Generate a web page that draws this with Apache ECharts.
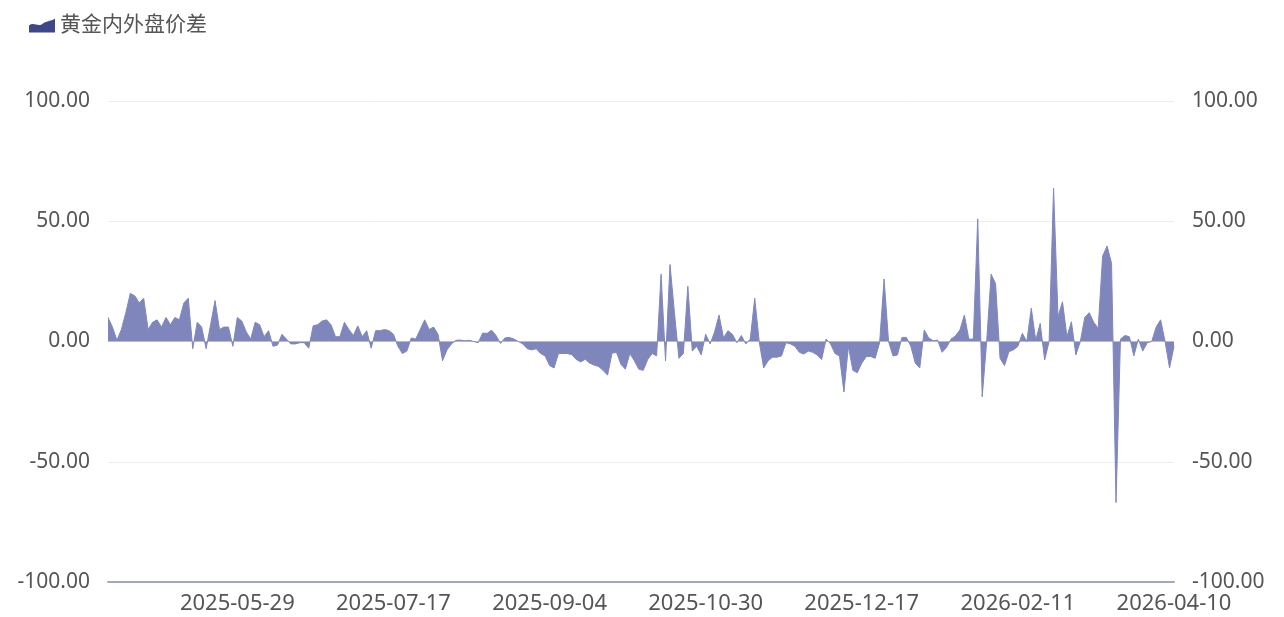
<!DOCTYPE html>
<html>
<head>
<meta charset="utf-8">
<script src="https://cdn.jsdelivr.net/npm/echarts@6/dist/echarts.min.js"></script>
<style>
html,body{margin:0;padding:0;background:#fff;}
#chart{width:1284px;height:617px;}
</style>
</head>
<body>
<div id="chart"></div>
<script>
const seriesName = '黄金内外盘价差';

const dates = [
'2025-04-15','2025-04-16','2025-04-17','2025-04-18','2025-04-21','2025-04-22','2025-04-23','2025-04-24','2025-04-25','2025-04-28','2025-04-29','2025-04-30','2025-05-06','2025-05-07','2025-05-08','2025-05-09','2025-05-12','2025-05-13','2025-05-14','2025-05-15','2025-05-16','2025-05-19','2025-05-20','2025-05-21','2025-05-22','2025-05-23','2025-05-26','2025-05-27','2025-05-28','2025-05-29',
'2025-05-30','2025-06-02','2025-06-03','2025-06-04','2025-06-05','2025-06-06','2025-06-09','2025-06-10','2025-06-11','2025-06-12','2025-06-13','2025-06-16','2025-06-17','2025-06-18','2025-06-19','2025-06-20','2025-06-23','2025-06-24','2025-06-25','2025-06-26','2025-06-27','2025-06-30','2025-07-01','2025-07-02','2025-07-03','2025-07-04','2025-07-07','2025-07-08','2025-07-09','2025-07-10','2025-07-11','2025-07-14','2025-07-15','2025-07-16','2025-07-17',
'2025-07-18','2025-07-21','2025-07-22','2025-07-23','2025-07-24','2025-07-25','2025-07-28','2025-07-29','2025-07-30','2025-07-31','2025-08-01','2025-08-04','2025-08-05','2025-08-06','2025-08-07','2025-08-08','2025-08-11','2025-08-12','2025-08-13','2025-08-14','2025-08-15','2025-08-18','2025-08-19','2025-08-20','2025-08-21','2025-08-22','2025-08-25','2025-08-26','2025-08-27','2025-08-28','2025-08-29','2025-09-01','2025-09-02','2025-09-03','2025-09-04',
'2025-09-05','2025-09-08','2025-09-09','2025-09-10','2025-09-11','2025-09-12','2025-09-15','2025-09-16','2025-09-17','2025-09-18','2025-09-19','2025-09-22','2025-09-23','2025-09-24','2025-09-25','2025-09-26','2025-09-29','2025-09-30','2025-10-09','2025-10-10','2025-10-11','2025-10-13','2025-10-14','2025-10-15','2025-10-16','2025-10-17','2025-10-20','2025-10-21','2025-10-22','2025-10-23','2025-10-24','2025-10-27','2025-10-28','2025-10-29','2025-10-30',
'2025-10-31','2025-11-01','2025-11-03','2025-11-04','2025-11-05','2025-11-06','2025-11-07','2025-11-10','2025-11-11','2025-11-12','2025-11-13','2025-11-14','2025-11-17','2025-11-18','2025-11-19','2025-11-20','2025-11-21','2025-11-24','2025-11-25','2025-11-26','2025-11-27','2025-11-28','2025-12-01','2025-12-02','2025-12-03','2025-12-04','2025-12-05','2025-12-08','2025-12-09','2025-12-10','2025-12-11','2025-12-12','2025-12-15','2025-12-16','2025-12-17',
'2025-12-18','2025-12-19','2025-12-22','2025-12-23','2025-12-24','2025-12-29','2025-12-30','2025-12-31','2026-01-05','2026-01-06','2026-01-07','2026-01-08','2026-01-09','2026-01-12','2026-01-13','2026-01-14','2026-01-15','2026-01-16','2026-01-20','2026-01-21','2026-01-22','2026-01-23','2026-01-26','2026-01-27','2026-01-28','2026-01-29','2026-01-30','2026-02-02','2026-02-03','2026-02-04','2026-02-05','2026-02-06','2026-02-09','2026-02-10','2026-02-11',
'2026-02-12','2026-02-13','2026-02-24','2026-02-25','2026-02-26','2026-02-27','2026-03-02','2026-03-03','2026-03-04','2026-03-05','2026-03-06','2026-03-09','2026-03-10','2026-03-11','2026-03-12','2026-03-13','2026-03-16','2026-03-17','2026-03-18','2026-03-19','2026-03-20','2026-03-23','2026-03-24','2026-03-25','2026-03-26','2026-03-27','2026-03-30','2026-03-31','2026-04-01','2026-04-02','2026-04-03','2026-04-07','2026-04-08','2026-04-09','2026-04-10'
];

const spread = [
10,6,0.5,5,12,20,19,16,18,5,8,9,6,10,7,10,9,16,18,-3,8,6,-3,7,17,5,6,6,-2,10,
8.5,4,1,8,7,2,4.5,-2,-1.5,3,1,-1,-1,-0.5,-0.5,-2.8,6.5,7,8.5,9,7,2,2,8,5,2.5,6.5,2,4.5,-2.8,
4.5,4.5,5,4.5,3,-2,-5,-4,1.5,1,5,9,5,6,3,-8,-3.5,-1,0.5,0.6,0.3,0.5,0,-0.5,3.5,3.4,4.7,2.5,-0.8,1.5,
1.7,1,0,-1,-3,-3.5,-3,-5,-6,-10,-11,-5,-5,-5,-5.5,-7.5,-8.5,-7.4,-9,-9.8,-10.4,-12,-14,-4.9,-4.5,-9.5,-11.5,-5,-8,-11.5,
-12,-7.5,-5,-6,28,-8,32,12,-7,-5,23,-4,-2,-5.6,3,-1,4,11,1.5,4.5,3,-0.5,2.5,-1,1,18,0,-11,-8,-6.5,
-6.5,-6,-0.5,-1,-2,-4.5,-5.2,-4,-4.5,-5.6,-7.5,1,-1,-5,-6,-21,-2,-12,-13,-9,-6.3,-6.2,-7,-0.5,26,0,-6,-5.6,1.7,1.7,
-2,-9,-11,4.8,1.5,0.3,0.6,-4.5,-2.5,1,2.3,4.8,11,1,1,51,-23,0,28,24,-7,-10,-4.2,-3.5,-2,3.4,0,13.8,0.6,7.5,
-7.7,0,63.7,10.3,16.5,2,8.2,-5.6,0,10,12,8,5.5,35.5,39.7,32.5,-67,1,2.5,2,-6,1,-4,-0.5,0,6,9,0,-11,-2
];

const tickLabels = ['2025-05-29','2025-07-17','2025-09-04','2025-10-30','2025-12-17','2026-02-11','2026-04-10'];
const yMin = -100, yMax = 100, yStep = 50;

const chart = echarts.init(document.getElementById('chart'));
const textColor = '#555';
const fontFamily = '"Noto Sans", "Noto Sans CJK SC", sans-serif';
const yAxisCommon = {
  type: 'value', min: yMin, max: yMax, interval: yStep,
  axisLine: {show: false}, axisTick: {show: false},
  axisLabel: {color: textColor, fontSize: 21, fontFamily: fontFamily, margin: 18,
    formatter: v => v.toFixed(2)}
};
chart.setOption({
  animation: false,
  textStyle: {fontFamily: fontFamily},
  legend: {
    left: 24, top: 10,
    itemWidth: 26, itemHeight: 14, itemGap: 10,
    textStyle: {color: textColor, fontSize: 21, fontFamily: fontFamily},
    data: [{name: seriesName, icon: 'path://M0,14 L0,7 C5,3 9,9 14,5 C18,2 22,3 26,0 L26,14 Z', itemStyle: {color: '#3e4888'}}]
  },
  grid: {left: 108, right: 110, top: 101, bottom: 35, containLabel: false},
  xAxis: {
    type: 'category', data: dates, boundaryGap: false,
    axisLine: {show: true, onZero: false, lineStyle: {color: '#a3a8bd', width: 2}},
    axisTick: {show: false},
    axisLabel: {
      color: textColor, fontSize: 22, fontFamily: fontFamily, margin: 11,
      interval: (idx, val) => tickLabels.includes(val)
    },
    splitLine: {show: false}
  },
  yAxis: [
    Object.assign({}, yAxisCommon, {position: 'left', axisLabel: Object.assign({}, yAxisCommon.axisLabel),
      splitLine: {show: true, lineStyle: {color: '#eeeeee', width: 1}}}),
    Object.assign({}, yAxisCommon, {position: 'right', axisLabel: Object.assign({}, yAxisCommon.axisLabel),
      splitLine: {show: false}})
  ],
  series: [{
    name: seriesName, type: 'line', data: spread, yAxisIndex: 0,
    symbol: 'none', showSymbol: false,
    lineStyle: {width: 1, color: '#8087bb'},
    itemStyle: {color: '#3e4888'},
    areaStyle: {color: '#7f86bb', opacity: 1, origin: 0}
  }]
});
</script>
</body>
</html>
